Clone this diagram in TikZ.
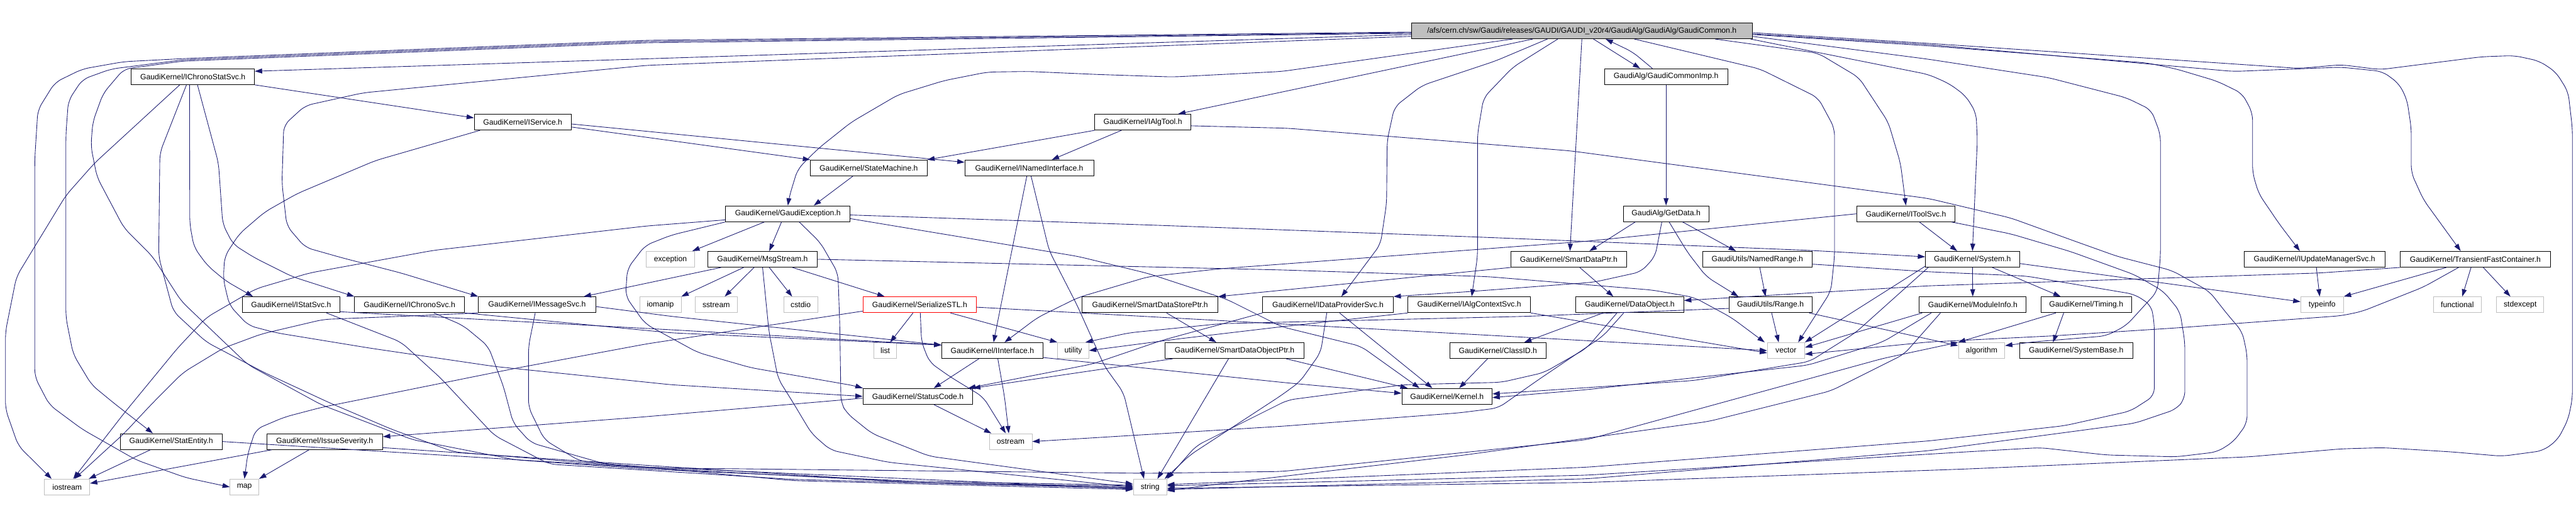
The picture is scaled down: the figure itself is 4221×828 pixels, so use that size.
\documentclass[tikz,border=0pt]{standalone}
\usepackage{fontspec}
\setmainfont{Liberation Sans}
\usetikzlibrary{arrows.meta,calc}
\definecolor{edgec}{HTML}{191970}
\definecolor{sysc}{HTML}{BFBFBF}
\begin{document}
\begin{tikzpicture}[x=1pt,y=-1pt,
  base/.style={draw=black, fill=white, inner sep=0pt, minimum height=26pt, line width=0.9pt,
     font=\fontsize{12.6}{14}\selectfont},
  hbox/.style={base},
  sbox/.style={base, draw=sysc},
  rbox/.style={base, draw=red},
  rootbox/.style={base, fill=sysc},
  e/.style={draw=edgec, line width=0.9pt, rounded corners=12pt, -{Triangle[length=12pt,width=8pt]}}]
\useasboundingbox (0,0) rectangle (4221,828);
% ---------------- nodes
\node[rootbox, minimum width=558pt] (root) at (2592,50.5) {/afs/cern.ch/sw/Gaudi/releases/GAUDI/GAUDI\_v20r4/GaudiAlg/GaudiAlg/GaudiCommon.h};
\node[hbox, minimum width=202pt] (ichs) at (316,125.5) {GaudiKernel/IChronoStatSvc.h};
\node[hbox, minimum width=202pt] (gci) at (2730,125.5) {GaudiAlg/GaudiCommonImp.h};
\node[hbox, minimum width=159pt] (isvc) at (856.5,200) {GaudiKernel/IService.h};
\node[hbox, minimum width=157pt] (ialg) at (1872.5,200) {GaudiKernel/IAlgTool.h};
\node[hbox, minimum width=191pt] (sm) at (1423.5,275) {GaudiKernel/StateMachine.h};
\node[hbox, minimum width=211pt] (ini) at (1686.5,275) {GaudiKernel/INamedInterface.h};
\node[hbox, minimum width=204pt] (gex) at (1291,350) {GaudiKernel/GaudiException.h};
\node[hbox, minimum width=140pt] (gd) at (2730,350) {GaudiAlg/GetData.h};
\node[hbox, minimum width=160pt] (its) at (3123,350) {GaudiKernel/IToolSvc.h};
\node[sbox, minimum width=79pt] (exc) at (1098.5,424.5) {exception};
\node[hbox, minimum width=179pt] (msg) at (1249.5,424.5) {GaudiKernel/MsgStream.h};
\node[hbox, minimum width=189pt] (sdp) at (2570.5,424.5) {GaudiKernel/SmartDataPtr.h};
\node[hbox, minimum width=179pt] (nr) at (2879.5,424.5) {GaudiUtils/NamedRange.h};
\node[hbox, minimum width=154pt] (sys) at (3232,424.5) {GaudiKernel/System.h};
\node[hbox, minimum width=231pt] (ium) at (3792.5,424.5) {GaudiKernel/IUpdateManagerSvc.h};
\node[hbox, minimum width=246pt] (tfc) at (4056,424.5) {GaudiKernel/TransientFastContainer.h};
\node[hbox, minimum width=160pt] (iss) at (477,499) {GaudiKernel/IStatSvc.h};
\node[hbox, minimum width=180pt] (ics) at (671,499) {GaudiKernel/IChronoSvc.h};
\node[hbox, minimum width=192pt] (ims) at (880,499) {GaudiKernel/IMessageSvc.h};
\node[sbox, minimum width=68pt] (iom) at (1082,499) {iomanip};
\node[sbox, minimum width=69pt] (sst) at (1173.5,499) {sstream};
\node[sbox, minimum width=56pt] (cst) at (1312,499) {cstdio};
\node[rbox, minimum width=186pt] (ser) at (1507,499) {GaudiKernel/SerializeSTL.h};
\node[hbox, minimum width=223pt] (sdsp) at (1884.5,499) {GaudiKernel/SmartDataStorePtr.h};
\node[hbox, minimum width=214pt] (idp) at (2176,499) {GaudiKernel/IDataProviderSvc.h};
\node[hbox, minimum width=201pt] (iac) at (2407.5,499) {GaudiKernel/IAlgContextSvc.h};
\node[hbox, minimum width=177pt] (dob) at (2670.5,499) {GaudiKernel/DataObject.h};
\node[hbox, minimum width=136pt] (rng) at (2901,499) {GaudiUtils/Range.h};
\node[hbox, minimum width=175pt] (mi) at (3232.5,499) {GaudiKernel/ModuleInfo.h};
\node[hbox, minimum width=149pt] (tim) at (3418.5,499) {GaudiKernel/Timing.h};
\node[sbox, minimum width=70pt] (tinfo) at (3805,499) {typeinfo};
\node[sbox, minimum width=79pt] (func) at (4026.5,499) {functional};
\node[sbox, minimum width=77pt] (stdx) at (4129.5,499) {stdexcept};
\node[sbox, minimum width=37pt] (lst) at (1450.5,574) {list};
\node[hbox, minimum width=166pt] (iif) at (1626,574) {GaudiKernel/IInterface.h};
\node[sbox, minimum width=51pt] (util) at (1758.5,574) {utility};
\node[hbox, minimum width=228pt] (sdop) at (2023,574) {GaudiKernel/SmartDataObjectPtr.h};
\node[hbox, minimum width=157pt] (cid) at (2454.5,574) {GaudiKernel/ClassID.h};
\node[sbox, minimum width=61pt] (vec) at (2926.5,574) {vector};
\node[sbox, minimum width=76pt] (alg) at (3247,574) {algorithm};
\node[hbox, minimum width=186pt] (sb) at (3402,574) {GaudiKernel/SystemBase.h};
\node[hbox, minimum width=180pt] (sc) at (1504,649) {GaudiKernel/StatusCode.h};
\node[hbox, minimum width=148pt] (ker) at (2371,649) {GaudiKernel/Kernel.h};
\node[hbox, minimum width=167pt] (se) at (280.5,723) {GaudiKernel/StatEntity.h};
\node[hbox, minimum width=190pt] (isev) at (532,723) {GaudiKernel/IssueSeverity.h};
\node[sbox, minimum width=70pt] (ost) at (1656,723) {ostream};
\node[sbox, minimum width=74pt] (ios) at (110,797.5) {iostream};
\node[sbox, minimum width=47pt] (mp) at (400.5,797.5) {map};
\node[sbox, minimum width=55pt] (str) at (1884.5,797.5) {string};
% ---------------- edges from root
\draw[e] ($(root.west)+(0,6)$) -- (ichs.5);
\draw[e] ($(root.west)+(0,9)$) -- (1060,107) -- (595,152) -- (500,173) -- (465,205) -- (462,300) -- (470,370) -- (500,405) -- (560,422) -- (657,447) -- (ims.north west);
\draw[e] ($(root.west)+(0,2)$) -- (1060,66) -- (300,96) -- (203,101) -- (135,113) -- (90,135) -- (62,180) -- (57,260) -- (57,617) -- (81,663) -- (135,703) -- (223,753) -- (304,782) -- (mp.west);
\draw[e] ($(root.west)+(0,3)$) -- (1060,68) -- (300,98) -- (182,113) -- (135,130) -- (112,165) -- (108,220) -- (108,520) -- (120,580) -- (150,630) -- (189,662) -- ($(se.north)+(-30,0)$);
\draw[e] ($(root.west)+(0,4)$) -- (1060,70) -- (300,100) -- (203,113) -- (169,153) -- (152,200) -- (149,240) -- (159,290) -- (203,373) -- (250,420) -- (297,493) -- (406,597) -- (527,663) -- (676,720) -- (845,753) -- (1060,768) -- (1500,788) -- ($(str.west)+(0,-3)$);
\draw[e] ($(root.south west)+(166,0)$) -- (2100,117) -- (1922,126) -- (1800,122) -- (1685,117) -- (1618,118) -- (1547,132) -- (1472,155) -- (1395,200) -- (1341,243) -- (1307,277) -- (1293,323) -- (gex.north);
\draw[e] ($(root.south west)+(199,0)$) -- ($(ialg.north)+(58,0)$);
\draw[e] ($(root.south west)+(223,0)$) -- (2450,100) -- (2330,140) -- (2285,175) -- (2273,230) -- (2272,333) -- (2262,400) -- ($(idp.north)+(22,0)$);
\draw[e] ($(root.south west)+(240,0)$) -- (2479,110) -- (2431,160) -- (2421,220) -- (2421,420) -- ($(iac.north)+(4,0)$);
\draw[e] (root.south) -- ($(sdp.north)+(2,0)$);
\draw[e] ($(root.south)+(19,0)$) -- ($(gci.north west)+(59,0)$);
\draw[e] ($(gci.north west)+(79,0)$) -- (2675,85) -- ($(root.south)+(39,0)$);
\draw[e] (gci.south) -- (gd.north);
\draw[e] ($(root.south)+(86,0)$) -- (2884,113) -- (2979,160) -- (3006,210) -- (3006,420) -- (3000,477) -- ($(vec.north)+(20,0)$);
\draw[e] ($(root.south east)+(-61,0)$) -- (2979,87) -- (3046,127) -- (3094,200) -- (3114,267) -- (its.north);
\draw[e] ($(root.east)+(0,9)$) -- (3160,97) -- (3356,127) -- (3484,160) -- (3525,180) -- (3540,220) -- (3540,420) -- (3535,477) -- (3484,533) -- (3451,550) -- (3330,560) -- ($(alg.east)+(0,-8)$);
\draw[e] ($(root.south east)+(-3,0)$) -- (3160,122) -- (3194,137) -- (3221,157) -- (3238,185) -- (3240,230) -- (sys.north);
\draw[e] ($(root.east)+(0,6)$) -- (3160,75) -- (3518,103) -- (3566,113) -- (3633,133) -- (3674,153) -- (3691,185) -- (3691,283) -- (3701,317) -- (3735,367) -- ($(ium.north)+(-24,0)$);
\draw[e] ($(root.east)+(0,5)$) -- (3160,73) -- (3660,117) -- (3836,110) -- (3904,117) -- (3931,137) -- (3944,163) -- (3951,210) -- (3951,283) -- (3971,327) -- ($(tfc.north)+(-24,0)$);
\draw[e] ($(root.east)+(0,3)$) -- (3160,71) -- (3768,112) -- (3836,106) -- (3900,114) -- (4066,93) -- (4120,91) -- (4161,100) -- (4188,118) -- (4208,150) -- (4215,210) -- (4215,653) -- (4208,687) -- (4191,720) -- (4167,738) -- (4100,747) -- (4018,740) -- (3904,733) -- (3836,735) -- (3685,748) -- (3220,768) -- (2600,790) -- ($(str.east)+(0,2)$);
% ---------------- IChronoStatSvc
\draw[e] (ichs.south east) -- (isvc.175);
\draw[e] ($(ichs.south west)+(80,0)$) -- (155,267) -- (108,320) -- (47,420) -- (27,453) -- (9,543) -- (9,670) -- (30,730) -- ($(ios.north west)+(12,0)$);
\draw[e] ($(ichs.south west)+(91,0)$) -- (262,250) -- (260,420) -- (284,510) -- (338,560) -- (433,610) -- (541,660) -- (642,703) -- (744,740) -- (1060,766) -- (1500,790) -- ($(str.west)+(0,-1)$);
\draw[e] ($(ichs.south west)+(96,0)$) -- (311,367) -- (318,405) -- (340,435) -- (370,460) -- ($(iss.north west)+(18,0)$);
\draw[e] ($(ichs.south west)+(109,0)$) -- (358,267) -- (365,367) -- (382,400) -- (417,422) -- (479,453) -- (ics.north west);
% ---------------- IService, IAlgTool, StateMachine, INamedInterface
\draw[e] ($(isvc.east)+(0,8)$) -- (sm.north west);
\draw[e] ($(isvc.east)+(0,3)$) -- (ini.175);
\draw[e] ($(isvc.south west)+(10,0)$) -- (615,263) -- (487,317) -- (434,347) -- (392,383) -- (368,420) -- (366,458) -- (376,500) -- (407,533) -- (453,545) -- (606,570) -- (810,600) -- (1100,630) -- (sc.west);
\draw[e] (ialg.south west) -- (sm.north east);
\draw[e] ($(ialg.south west)+(44,0)$) -- ($(ini.north east)+(-69,0)$);
\draw[e] ($(ialg.east)+(0,6)$) -- (2110,210) -- (2573,247) -- (3160,325) -- (3295,357) -- (3400,395) -- (3470,420) -- (3559,443) -- (3620,477) -- (3650,515) -- (3674,543) -- (3682,580) -- (3682,693) -- (3660,723) -- (3633,740) -- (3566,748) -- (3452,745) -- (3343,733) -- (3220,740) -- (2600,778) -- ($(str.east)+(0,-2)$);
\draw[e] ($(sm.south west)+(70,0)$) -- ($(gex.north east)+(-60,0)$);
\draw[e] ($(ini.south)+(-4,0)$) -- (1656,420) -- ($(iif.north)+(2,0)$);
\draw[e] ($(ini.south)+(3,0)$) -- (1719,410) -- (1765,500) -- (1810,600) -- (1841,643) -- ($(str.north)+(-10,0)$);
% ---------------- GaudiException
\draw[e] ($(gex.west)+(0,10)$) -- (1060,370) -- (710,410) -- (507,447) -- (419,473) -- (338,520) -- (291,570) -- (203,677) -- ($(ios.north)+(10,0)$);
\draw[e] ($(gex.south west)+(64,0)$) -- ($(exc.north east)+(-4,0)$);
\draw[e] ($(gex.south west)+(92,0)$) -- ($(msg.north)+(11,0)$);
\draw[e] (gex.south west) -- (1100,385) -- (1057,402) -- (1028,440) -- (1025,485) -- (1057,530) -- (1143,577) -- (1230,602) -- (1402,632) -- (sc.north west);
\draw[e] ($(gex.south west)+(121,0)$) -- (1344,397) -- (1373,447) -- (1376,530) -- (1378,660) -- (1388,677) -- (1429,710) -- (1523,747) -- ($(str.west)+(0,-5)$);
\draw[e] ($(gex.east)+(0,2)$) -- (1900,369) -- (2418,388) -- (2965,410) -- ($(sys.west)+(0,-4)$);
\draw[e] ($(gex.east)+(0,8)$) -- (1767,420) -- (1882,448) -- (2010,490) -- (2100,535) -- (2230,567) -- ($(ker.north)+(-45,0)$);
% ---------------- MsgStream
\draw[e] ($(msg.south west)+(22,0)$) -- ($(ims.north east)+(-20,0)$);
\draw[e] ($(msg.south west)+(59,0)$) -- (iom.north east);
\draw[e] ($(msg.south west)+(76,0)$) -- ($(sst.north)+(14,0)$);
\draw[e] ($(msg.south west)+(101,0)$) -- ($(cst.north)+(-14,0)$);
\draw[e] ($(msg.south west)+(90,0)$) -- (1260,543) -- (1275,620) -- (1300,660) -- (1330,710) -- (1361,737) -- (1456,757) -- (str.west);
\draw[e] ($(msg.south east)+(-41,0)$) -- ($(ser.north west)+(36,0)$);
\draw[e] (msg.east) -- (2100,442) -- (2438,453) -- (2708,475) -- (2776,487) -- (2837,520) -- ($(vec.north west)+(-4,0)$);
% ---------------- SerializeSTL
\draw[e] ($(ser.south)+(-11,0)$) -- ($(lst.north)+(8,0)$);
\draw[e] ($(ser.south)+(1,0)$) -- (1510,560) -- (1523,593) -- (1557,617) -- (1611,650) -- ($(ost.north)+(-8,0)$);
\draw[e] ($(ser.south east)+(-43,0)$) -- (util.north west);
\draw[e] ($(ser.east)+(0,4)$) -- (vec.west);
\draw[e] ($(ser.south west)+(0,-3)$) -- (1060,563) -- (845,603) -- (676,637) -- (527,667) -- (466,683) -- (419,703) -- (406,743) -- (mp.north);
% ---------------- IInterface, StatusCode, IssueSeverity, StatEntity
\draw[e] ($(iif.south)+(-22,0)$) -- ($(sc.north)+(26,0)$);
\draw[e] ($(iif.south)+(9,0)$) -- (1646,650) -- ($(ost.north)+(-3,0)$);
\draw[e] ($(iif.south east)+(0,-2)$) -- (2110,627) -- ($(ker.west)+(0,-5)$);
\draw[e] ($(sc.south)+(26,0)$) -- ($(ost.north west)+(4,0)$);
\draw[e] ($(sc.west)+(0,3)$) -- (1050,683) -- ($(isev.east)+(0,-8)$);
\draw[e] ($(isev.south west)+(9,0)$) -- ($(ios.east)+(0,-6)$);
\draw[e] ($(isev.south west)+(70,0)$) -- (mp.north east);
\draw[e] ($(isev.east)+(0,10)$) -- (1060,762) -- (1500,790) -- ($(str.west)+(0,1)$);
\draw[e] ($(se.south west)+(50,0)$) -- ($(ios.north east)+(-2,0)$);
\draw[e] (se.east) -- (1060,766) -- (1880,775) -- (2100,772) -- (2600,720) -- (3085,587) -- (alg.north west);
% ---------------- IStatSvc, IChronoSvc, IMessageSvc
\draw[e] ($(iss.south east)+(0,-2)$) -- (1100,540) -- ($(iif.west)+(0,-9)$);
\draw[e] ($(iss.south)+(58,0)$) -- (657,560) -- (723,620) -- (810,713) -- (900,760) -- (1300,785) -- ($(str.west)+(0,2)$);
\draw[e] (ics.south east) -- (1100,545) -- ($(iif.west)+(0,-9)$);
\draw[e] ($(ics.south)+(40,0)$) -- (759,533) -- (800,567) -- (825,633) -- (841,693) -- (870,725) -- (1000,762) -- ($(str.west)+(0,3)$);
\draw[e] ($(ims.east)+(0,3)$) -- (1100,518) -- ($(iif.west)+(0,-9)$);
\draw[e] (ims.south west) -- (657,518) -- (530,523) -- (428,547) -- (366,570) -- (300,610) -- (250,660) -- (203,710) -- ($(ios.north)+(12,0)$);
\draw[e] ($(ims.south)+(-3,0)$) -- (866,567) -- (866,667) -- (892,720) -- (950,755) -- (1300,787) -- ($(str.west)+(0,4)$);
% ---------------- GetData, SmartDataPtr, NamedRange, Range
\draw[e] ($(gd.south west)+(20,0)$) -- ($(sdp.north)+(34,0)$);
\draw[e] ($(gd.south)+(27,0)$) -- ($(nr.north)+(-35,0)$);
\draw[e] ($(gd.south)+(5,0)$) -- (2765,413) -- (2796,453) -- ($(rng.north west)+(16,0)$);
\draw[e] ($(gd.south)+(-7,0)$) -- (2712,420) -- (2689,445) -- (2612,462) -- (2400,478) -- (idp.north east);
\draw[e] (sdp.south west) -- (sdsp.north east);
\draw[e] ($(sdp.south)+(18,0)$) -- ($(dob.north)+(-27,0)$);
\draw[e] ($(nr.south)+(4,0)$) -- ($(rng.north)+(-8,0)$);
\draw[e] ($(nr.east)+(0,8)$) -- (3160,445) -- (3320,452) -- (3498,482) -- (3525,500) -- (3530,530) -- (3530,648) -- (3491,673) -- (3383,697) -- (3160,722) -- (2600,765) -- ($(str.east)+(0,-4)$);
\draw[e] ($(rng.south)+(2,0)$) -- ($(vec.north)+(-12,0)$);
\draw[e] ($(rng.west)+(0,6)$) -- (2500,518) -- (2000,530) -- (1850,545) -- ($(util.north east)+(-6,0)$);
\draw[e] ($(rng.south east)+(-5,0)$) -- ($(alg.west)+(0,-8)$);
% ---------------- DataObject, ClassID, IDataProviderSvc, SmartData*, IAlgContextSvc
\draw[e] ($(dob.south west)+(45,0)$) -- ($(cid.north)+(43,0)$);
\draw[e] ($(dob.south)+(-10,0)$) -- (2627,550) -- (2519,623) -- (2455,668) -- (2391,676) -- (2100,698) -- (ost.east);
\draw[e] ($(dob.south)+(-21,0)$) -- (2600,570) -- (2530,610) -- (2460,626) -- (2300,630) -- (2110,655) -- (1960,730) -- (str.north east);
\draw[e] ($(cid.south)+(-17,0)$) -- ($(ker.north)+(20,0)$);
\draw[e] ($(idp.south)+(19,0)$) -- ($(ker.north)+(-24,0)$);
\draw[e] ($(idp.south)+(-2,0)$) -- (2164,577) -- (2130,625) -- (2100,647) -- (1950,745) -- ($(str.north east)+(-4,0)$);
\draw[e] (idp.south west) -- (1905,557) -- (1790,596) -- ($(sc.north east)+(-8,0)$);
\draw[e] ($(sdsp.south)+(27,0)$) -- ($(sdop.north)+(-30,0)$);
\draw[e] ($(sdop.south)+(-10,0)$) -- ($(str.north)+(12,0)$);
\draw[e] ($(sdop.south west)+(13,0)$) -- (sc.north east);
\draw[e] ($(sdop.south east)+(-30,0)$) -- ($(ker.north west)+(10,0)$);
\draw[e] (iac.south east) -- ($(vec.west)+(0,4)$);
\draw[e] (iac.south west) -- (2100,535) -- (1930,555) -- (util.east);
% ---------------- IToolSvc
\draw[e] ($(its.south)+(22,0)$) -- ($(sys.north)+(-25,0)$);
\draw[e] (its.west) -- (2600,395) -- (2000,440) -- (1882,453) -- (1767,487) -- (1700,520) -- ($(iif.north)+(20,0)$);
\draw[e] ($(its.south east)+(-6,0)$) -- (3295,383) -- (3393,412) -- (3498,450) -- (3545,477) -- (3572,510) -- (3580,560) -- (3580,653) -- (3566,670) -- (3498,693) -- (3160,738) -- (2600,784) -- ($(str.east)+(0,4)$);
% ---------------- System, ModuleInfo, Timing
\draw[e] (sys.south) -- (mi.north);
\draw[e] ($(sys.south east)+(-45,0)$) -- ($(tim.north)+(-42,0)$);
\draw[e] ($(sys.east)+(0,7)$) -- ($(tinfo.west)+(0,-5)$);
\draw[e] ($(sys.south west)+(5,0)$) -- (3040,545) -- (2965,592) -- (2776,623) -- ($(ker.east)+(0,-4)$);
\draw[e] ($(sys.south west)+(0,-2)$) -- (vec.north east);
\draw[e] ($(mi.south west)+(20,0)$) -- (3085,560) -- (2962,598) -- (2600,638) -- ($(ker.east)+(0,2)$);
\draw[e] ($(mi.south west)+(5,0)$) -- ($(vec.east)+(0,-5)$);
\draw[e] ($(mi.south west)+(35,0)$) -- (3120,580) -- (3000,640) -- (2800,690) -- (2400,745) -- (2000,792) -- ($(str.east)+(0,6)$);
\draw[e] ($(tim.south)+(-37,0)$) -- ($(sb.north)+(-38,0)$);
\draw[e] ($(tim.south west)+(25,0)$) -- (alg.north west);
% ---------------- IUpdateManagerSvc, TransientFastContainer
\draw[e] ($(ium.south)+(3,0)$) -- ($(tinfo.north)+(-4,0)$);
\draw[e] ($(tfc.south west)+(76,0)$) -- (tinfo.north east);
\draw[e] ($(tfc.south)+(-7,0)$) -- ($(func.north)+(8,0)$);
\draw[e] ($(tfc.south)+(13,0)$) -- ($(stdx.north)+(-16,0)$);
\draw[e] (tfc.south west) -- (3800,447) -- (3160,468) -- ($(dob.east)+(0,-7)$);
\draw[e] ($(tfc.south west)+(96,0)$) -- (3971,470) -- (3870,510) -- (3836,517) -- (3565,537) -- (3363,550) -- (3160,560) -- ($(vec.east)+(0,6)$);
\end{tikzpicture}
\end{document}
